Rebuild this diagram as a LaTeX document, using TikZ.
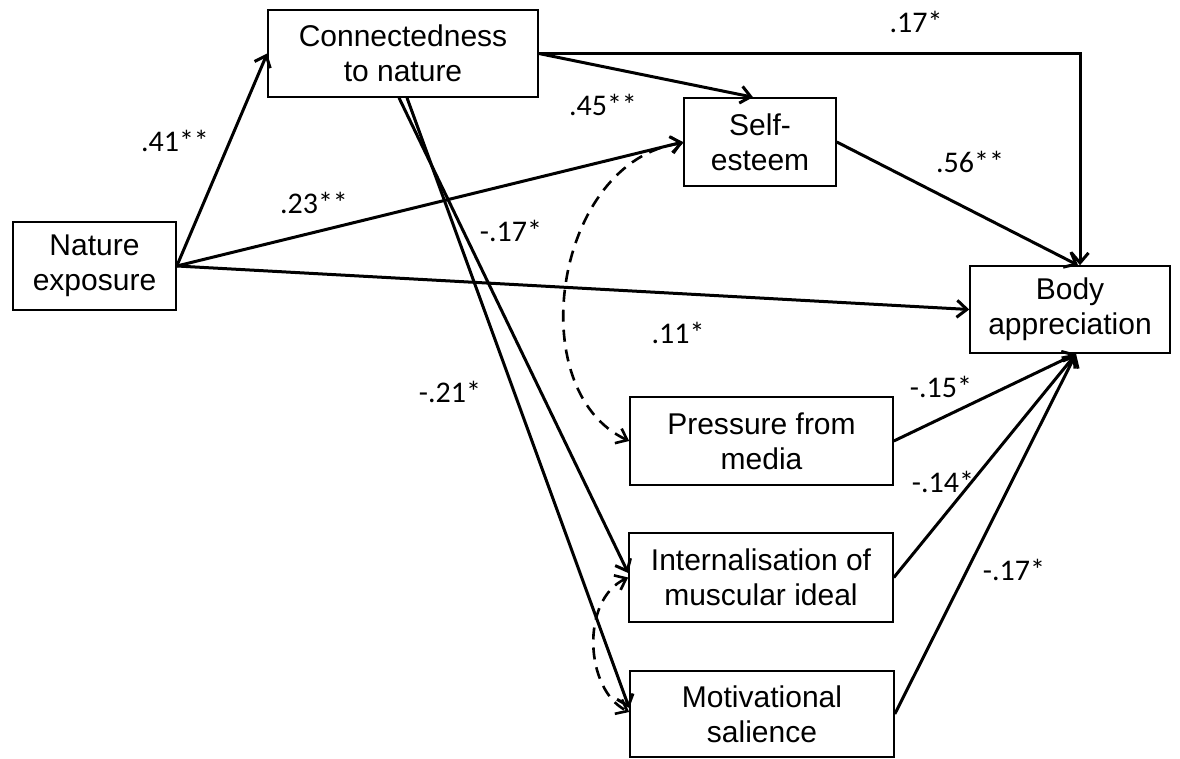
\documentclass[tikz,border=0pt]{standalone}
\usepackage{fontspec}
\setmainfont{Liberation Sans}
\newfontfamily\labfont{Carlito}
\usetikzlibrary{arrows.meta}
\begin{document}
\begin{tikzpicture}[x=1pt,y=-1pt,
  box/.style={draw,line width=1.6pt,inner sep=0pt,align=center,font=\fontsize{30}{35}\selectfont},
  arr/.style={line width=3pt,line join=miter,-{Straight Barb[length=10pt,width=17pt]}},
  corr/.style={line width=2.6pt,dash pattern=on 12pt off 8pt,{Straight Barb[length=10pt,width=16pt]}-{Straight Barb[length=10pt,width=16pt]}},
  lab/.style={font=\labfont\fontsize{30}{31}\selectfont,inner sep=0pt}]
\useasboundingbox[fill=white] (0,0) rectangle (1180,759);
% boxes
\node[box,minimum width=270pt,minimum height=87pt] (conn) at (403,53.5) {Connectedness\\to nature};
\node[box,minimum width=163pt,minimum height=88pt] (nat) at (94.5,266) {Nature\\exposure};
\node[box,minimum width=152pt,minimum height=88pt] (self) at (760,142) {Self-\\esteem};
\node[box,minimum width=200pt,minimum height=87pt] (body) at (1070,309.5) {Body\\appreciation};
\node[box,minimum width=263pt,minimum height=88pt] (press) at (761.5,441) {Pressure from\\media};
\node[box,minimum width=264pt,minimum height=89pt] (intern) at (761,577.5) {Internalisation of\\muscular ideal};
\node[box,minimum width=264pt,minimum height=86pt] (motiv) at (762,714) {Motivational\\salience};
% paths
\draw[arr] (nat.east) -- (conn.west);
\draw[arr] (nat.east) -- (self.west);
\draw[arr] (nat.east) -- (body.west);
\draw[arr] (conn.east) -- ([xshift=-7pt]self.north);
\draw[arr] (conn.east) -| ([xshift=10pt]body.north);
\draw[arr] (self.east) -- ([xshift=8pt]body.north);
\draw[arr] ([xshift=-4pt]conn.south) -- ([yshift=4.5pt]intern.west);
\draw[arr] ([xshift=4pt]conn.south) -- ([yshift=6pt]motiv.west);
\draw[arr] (press.east) -- ([xshift=6pt]body.south);
\draw[arr] (intern.east) -- ([xshift=6pt]body.south);
\draw[arr] (motiv.east) -- ([xshift=6pt]body.south);
% correlations
\draw[corr] ([yshift=-1pt]self.west) .. controls (555,160) and (520,390) .. (press.west);
\draw[corr] (intern.west) .. controls (580,600) and (585,690) .. ([yshift=2pt]motiv.west);
% labels
\node[lab] (l41) at (175,141) {.41**};
\node[lab] (l23) at (314,203) {.23**};
\node[lab] (l45) at (603,105) {.45**};
\node[lab] (l17a) at (916,22) {.17*};
\node[lab] (l56) at (970,162) {.56**};
\node[lab] (l17b) at (511,231) {-.17*};
\node[lab] (l11) at (678,333) {.11*};
\node[lab] (l21) at (450,392) {-.21*};
\node[lab] (l15) at (941,387) {-.15*};
\node[lab] (l14) at (943,482) {-.14*};
\node[lab] (l17c) at (1014,570) {-.17*};
\end{tikzpicture}
\end{document}
